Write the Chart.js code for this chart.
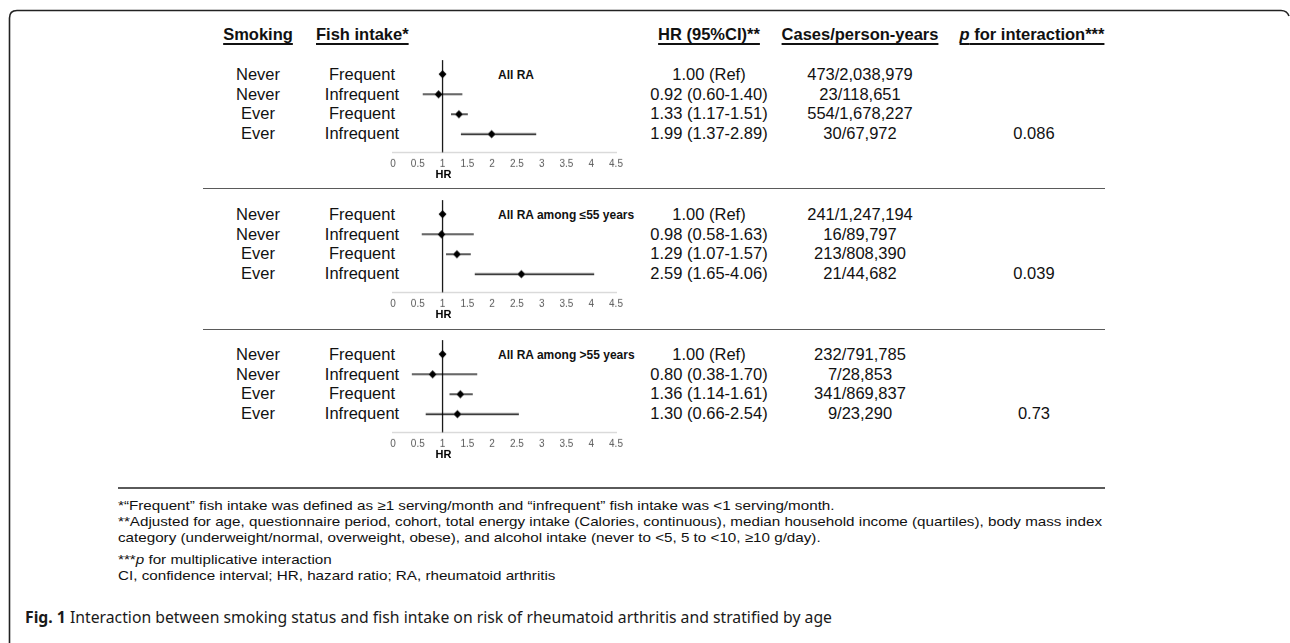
<!DOCTYPE html>
<html>
<head>
<meta charset="utf-8">
<script src="https://cdn.jsdelivr.net/npm/chart.js@4.4.1/dist/chart.umd.min.js"></script>
<style>
  body { margin: 0; background: #fff; }
  #page { position: relative; width: 1290px; height: 643px; overflow: hidden; background: #fff;
          font-family: "Liberation Sans", Arial, sans-serif; color: #111; }
  .txt { position: absolute; white-space: nowrap; font-size: 16.5px; line-height: 20px; }
  .head { font-weight: bold; text-decoration: underline; text-decoration-thickness: 1.5px; text-underline-offset: 3px; }
  .tag { font-weight: bold; font-size: 12px; }
  .note { font-size: 13px; line-height: 15px; transform-origin: 0 50%; }
  .caption { font-family: "Noto Sans", "Open Sans", sans-serif; font-size: 16px; transform-origin: 0 50%; color: #1a1a1a; }
  .rule { position: absolute; height: 1.5px; background: #5a5a5a; }
  svg.frame { position: absolute; left: 0; top: 0; }
</style>
</head>
<body>
<div id="page">
  <svg class="frame" width="1290" height="643">
    <path d="M9.5 643 L9.5 18 Q9.5 10.5 17 10.5 L1281 10.5 Q1287 10.5 1289 16" fill="none" stroke="#222" stroke-width="1.6"/>
  </svg>
</div>
<script>
// rows within each panel
const smokingStatus = ["Never", "Never", "Ever", "Ever"];
const fishIntake = ["Frequent", "Infrequent", "Frequent", "Infrequent"];
const panelNames = ["All RA", "All RA among \u226455 years", "All RA among >55 years"];

// hazard ratios and 95% CI (first row is the reference)
const hrAll = [1.00, 0.92, 1.33, 1.99];
const loAll = [null, 0.60, 1.17, 1.37];
const hiAll = [null, 1.40, 1.51, 2.89];
const hrYoung = [1.00, 0.98, 1.29, 2.59];
const loYoung = [null, 0.58, 1.07, 1.65];
const hiYoung = [null, 1.63, 1.57, 4.06];
const hrOld = [1.00, 0.80, 1.36, 1.30];
const loOld = [null, 0.38, 1.14, 0.66];
const hiOld = [null, 1.70, 1.61, 2.54];

const casesAll = ["473/2,038,979", "23/118,651", "554/1,678,227", "30/67,972"];
const casesYoung = ["241/1,247,194", "16/89,797", "213/808,390", "21/44,682"];
const casesOld = ["232/791,785", "7/28,853", "341/869,837", "9/23,290"];
const pInteraction = ["0.086", "0.039", "0.73"];

const hrTicks = [0, 0.5, 1, 1.5, 2, 2.5, 3, 3.5, 4, 4.5];

const footnotes = [
  "*\u201cFrequent\u201d fish intake was defined as \u22651 serving/month and \u201cinfrequent\u201d fish intake was <1 serving/month.",
  "**Adjusted for age, questionnaire period, cohort, total energy intake (Calories, continuous), median household income (quartiles), body mass index",
  "category (underweight/normal, overweight, obese), and alcohol intake (never to <5, 5 to <10, \u226510 g/day).",
  "***<i>p</i> for multiplicative interaction",
  "CI, confidence interval; HR, hazard ratio; RA, rheumatoid arthritis"
];

const panels = [
  { hr: hrAll, lo: loAll, hi: hiAll, cases: casesAll },
  { hr: hrYoung, lo: loYoung, hi: hiYoung, cases: casesYoung },
  { hr: hrOld, lo: loOld, hi: hiOld, cases: casesOld }
];

// layout
const rowTop = [74, 214, 354];
const ROW_GAP = 19.67;
const X0 = 393, X45 = 616;          // pixel of HR 0 and HR 4.5
const PAD_L = 20, PAD_R = 20, PAD_T = 8, PAD_B = 6;
const AXIS_H = 24.6;

Chart.defaults.font.family = '"Liberation Sans", Arial, sans-serif';
Chart.defaults.animation = false;

// "HR" axis caption sits under the HR = 1 tick
const hrCaption = {
  id: "hrCaption",
  afterDraw(chart) {
    const { ctx } = chart;
    const x = chart.scales.x;
    ctx.save();
    ctx.font = 'bold 11px "Liberation Sans", Arial, sans-serif';
    ctx.fillStyle = "#000";
    ctx.textAlign = "center";
    ctx.textBaseline = "middle";
    ctx.fillText("HR", x.getPixelForValue(1) + 1, x.top + 22);
    ctx.restore();
  }
};

const page = document.getElementById("page");

function addText(html, x, y, cls, align) {
  const el = document.createElement("div");
  el.className = "txt " + (cls || "");
  el.innerHTML = html;
  el.style.left = x + "px";
  el.style.top = y + "px";
  const tx = align === "left" ? "0" : "-50%";
  el.style.transform = `translate(${tx},-50%)`;
  page.appendChild(el);
  return el;
}

function addRule(x1, x2, y) {
  const el = document.createElement("div");
  el.className = "rule";
  el.style.left = x1 + "px";
  el.style.width = (x2 - x1) + "px";
  el.style.top = y + "px";
  page.appendChild(el);
}

function fmt(v) { return v.toFixed(2); }

function drawForest(idx, hr, lo, hi) {
  const y0 = rowTop[idx];
  const areaTop = y0 - 14, areaBottom = y0 + 77;
  const box = document.createElement("div");
  box.style.position = "absolute";
  box.style.left = (X0 - PAD_L) + "px";
  box.style.top = (areaTop - PAD_T) + "px";
  box.style.width = (X45 - X0 + PAD_L + PAD_R) + "px";
  box.style.height = (PAD_T + (areaBottom - areaTop) + AXIS_H + PAD_B) + "px";
  const cv = document.createElement("canvas");
  box.appendChild(cv);
  page.appendChild(box);

  const yMin = -14 / ROW_GAP, yMax = 77 / ROW_GAP;

  const datasets = [{
    data: hr.map((v, i) => ({ x: v, y: i })),
    pointStyle: "rectRot", pointRadius: 4, pointBackgroundColor: "#000",
    pointBorderWidth: 0, showLine: false, order: 0, clip: false
  }];
  hr.forEach((v, i) => {
    if (lo[i] == null) return;
    datasets.push({
      data: [{ x: lo[i], y: i }, { x: hi[i], y: i }],
      showLine: true, borderColor: "#000", borderWidth: 1.3, pointRadius: 0, order: 1, clip: false
    });
  });
  // reference line at HR = 1
  datasets.push({
    data: [{ x: 1, y: yMin }, { x: 1, y: yMax }],
    showLine: true, borderColor: "#1a1a1a", borderWidth: 1.3, pointRadius: 0, order: 2, clip: false
  });

  new Chart(cv, {
    type: "scatter",
    data: { datasets },
    plugins: [hrCaption],
    options: {
      responsive: true,
      maintainAspectRatio: false,
      layout: { padding: { left: PAD_L, right: PAD_R, top: PAD_T, bottom: PAD_B } },
      plugins: { legend: { display: false }, tooltip: { enabled: false } },
      events: [],
      scales: {
        x: {
          type: "linear",
          min: 0,
          max: 4.5,
          afterBuildTicks: (s) => { s.ticks = hrTicks.map((v) => ({ value: v })); },
          ticks: {
            autoSkip: false, maxRotation: 0, padding: 6, color: "#595959",
            font: { size: 10 }, callback: (v) => String(v)
          },
          grid: { display: false, drawTicks: false },
          border: { display: true, color: "#d4d4d4", width: 1.3 }
        },
        y: { type: "linear", reverse: true, min: yMin, max: yMax, display: false }
      }
    }
  });
}

// column headers
addText("Smoking", 258, 34, "head");
addText("Fish intake*", 316, 34, "head", "left");
addText("HR (95%CI)**", 709, 34, "head");
addText("Cases/person-years", 860, 34, "head");
addText("<i>p</i> for interaction***", 1032, 34, "head");

panels.forEach((pn, idx) => {
  const y0 = rowTop[idx];
  smokingStatus.forEach((s, i) => {
    const y = y0 + i * ROW_GAP;
    addText(s, 258, y);
    addText(fishIntake[i], 362, y);
    const hrTxt = pn.lo[i] == null ? fmt(pn.hr[i]) + " (Ref)"
      : `${fmt(pn.hr[i])} (${fmt(pn.lo[i])}-${fmt(pn.hi[i])})`;
    addText(hrTxt, 709, y);
    addText(pn.cases[i], 860, y);
  });
  addText(pInteraction[idx], 1034, y0 + 3 * ROW_GAP);
  addText(panelNames[idx], 498, y0 + 1, "tag", "left");
  drawForest(idx, pn.hr, pn.lo, pn.hi);
});

addRule(203, 1105, 187.5);
addRule(203, 1105, 328.5);
addRule(118, 1105, 487);

const noteY = [505, 521, 537, 559, 575];
const noteEls = footnotes.map((t, i) => addText(t, 118, noteY[i], "note", "left"));
const capEl = addText("<b>Fig. 1</b> Interaction between smoking status and fish intake on risk of rheumatoid arthritis and stratified by age", 25, 617, "caption", "left");

document.fonts.ready.then(() => {
  const s = 984 / noteEls[1].getBoundingClientRect().width;
  noteEls.forEach((el) => { el.style.transform = `translate(0,-50%) scaleX(${s})`; });
  const c = 807 / capEl.getBoundingClientRect().width;
  capEl.style.transform = `translate(0,-50%) scaleX(${c})`;
});
</script>
</body>
</html>
